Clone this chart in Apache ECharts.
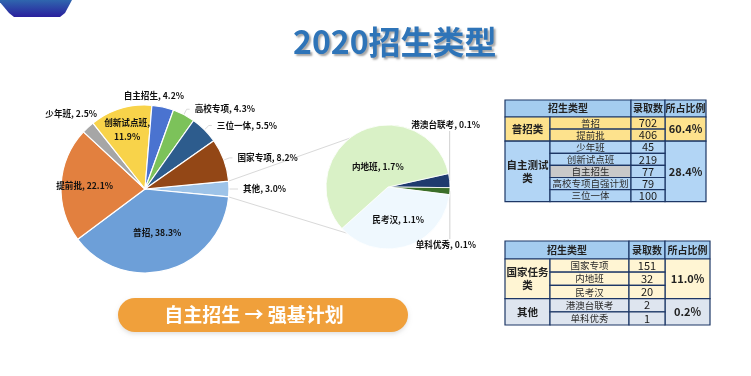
<!DOCTYPE html>
<html>
<head>
<meta charset="utf-8">
<title>2020招生类型</title>
<script src="https://cdn.jsdelivr.net/npm/echarts@6/dist/echarts.min.js"></script>
<style>
html,body{margin:0;padding:0;background:#fff;}
#main{width:751px;height:376px;}
</style>
</head>
<body>
<div id="main"></div>
<script>
// 主饼图 (顺时针, 从"其他"之后开始)
var mainNames = ['普招', '提前批', '少年班', '创新试点班', '自主招生', '高校专项', '三位一体', '国家专项'];
var mainCounts = [702, 406, 45, 219, 77, 79, 100, 151];
var mainColors = ['#6d9fd8', '#e2803f', '#a6a6a6', '#f8d34a', '#4a73d0', '#7cc25a', '#2d5c8d', '#934716'];
var insideNames = ['普招', '提前批', '创新试点班'];

// "其他" 拆分出的子饼图
var otherName = '其他';
var otherColor = '#9dc3e8';
var subNames = ['港澳台联考', '单科优秀', '民考汉', '内地班'];
var subCounts = [2, 1, 20, 32];
var subColors = ['#1f3b6e', '#3b6e29', '#eff8fe', '#d9f1c6'];

// 表格
var tableHeader = ['招生类型', '录取数', '所占比例'];
var table1Groups = ['普招类', '自主测试类'];
var table1GroupSize = [2, 5];
var table1Names = ['普招', '提前批', '少年班', '创新试点班', '自主招生', '高校专项自强计划', '三位一体'];
var table1Counts = [702, 406, 45, 219, 77, 79, 100];
var table1Ratios = ['60.4%', '28.4%'];
var table2Groups = ['国家任务类', '其他'];
var table2GroupSize = [3, 2];
var table2Names = ['国家专项', '内地班', '民考汉', '港澳台联考', '单科优秀'];
var table2Counts = [151, 32, 20, 2, 1];
var table2Ratios = ['11.0%', '0.2%'];

var FONT = '"Noto Sans CJK SC", "Noto Sans", sans-serif';
var MAIN_C = [145, 189], MAIN_R = 84;
var SUB_C = [388, 187], SUB_R = 62;
// 内部标签离圆心的位置 (占半径比例)
var insideRatio = {'提前批': 0.72, '创新试点班': 0.74, '内地班': 0.36};

function sum(arr){
	var s = 0;
	for(var i = 0; i < arr.length; i++){ s += arr[i]; }
	return s;
}
var otherTotal = sum(subCounts);
var total = sum(mainCounts) + otherTotal;

function pct(v){
	return (v / total * 100).toFixed(1) + '%';
}

function cell(x, y, w, h, fill, text, opt){
	opt = opt || {};
	return {
		type: 'rect',
		shape: {x: x, y: y, width: w, height: h},
		style: {fill: fill, stroke: '#1d3766', lineWidth: 1.2},
		textContent: {
			type: 'text',
			style: {
				text: text,
				fill: opt.color || '#222',
				fontSize: opt.size || 10,
				fontWeight: opt.bold ? 'bold' : 'normal',
				fontFamily: FONT,
				width: opt.width,
				overflow: opt.width ? 'break' : 'none',
				align: 'center',
				lineHeight: opt.lineHeight
			}
		},
		textConfig: {position: 'inside'}
	};
}

function buildTable(cols, y0, headH, rowH, groups, groupSize, names, counts, ratios, headColor, groupColors, highlight){
	var els = [];
	els.push(cell(cols[0], y0, cols[2] - cols[0], headH, headColor, tableHeader[0], {bold: true, size: 10}));
	els.push(cell(cols[2], y0, cols[3] - cols[2], headH, headColor, tableHeader[1], {bold: true, size: 10}));
	els.push(cell(cols[3], y0, cols[4] - cols[3], headH, headColor, tableHeader[2], {bold: true, size: 10}));
	var y = y0 + headH;
	var idx = 0;
	for(var g = 0; g < groups.length; g++){
		var h = groupSize[g] * rowH;
		els.push(cell(cols[0], y, cols[1] - cols[0], h, groupColors[g], groups[g], {bold: true, size: 10.5, width: 44, lineHeight: 13}));
		els.push(cell(cols[3], y, cols[4] - cols[3], h, groupColors[g], ratios[g], {bold: true, size: 11}));
		for(var r = 0; r < groupSize[g]; r++){
			var ry = y + r * rowH;
			var fill = names[idx] === highlight ? '#c9c9c9' : groupColors[g];
			els.push(cell(cols[1], ry, cols[2] - cols[1], rowH, fill, names[idx], {size: 9.5, color: '#2b2b2b'}));
			els.push(cell(cols[2], ry, cols[3] - cols[2], rowH, groupColors[g], String(counts[idx]), {size: 11, color: '#1a1a1a'}));
			idx++;
		}
		y += h;
	}
	return els;
}

function buildGraphic(){
	var els = [];
	// 左上角标签
	els.push({
		type: 'polygon',
		shape: {points: [[-2, 0], [72, 0], [65, 13], [60, 17], [14, 17], [9, 13]], smooth: 0},
		style: {fill: new echarts.graphic.LinearGradient(0, 0, 0, 1, [
			{offset: 0, color: '#2f66ae'}, {offset: 1, color: '#2a1f9d'}
		])}
	});
	// 连接线
	var a = otherTotal / total * Math.PI;
	var p1 = [MAIN_C[0] + MAIN_R * Math.cos(a), MAIN_C[1] - MAIN_R * Math.sin(a)];
	var p2 = [MAIN_C[0] + MAIN_R * Math.cos(a), MAIN_C[1] + MAIN_R * Math.sin(a)];
	var t1 = 128 * Math.PI / 180, t2 = 228 * Math.PI / 180;
	var q1 = [SUB_C[0] + SUB_R * Math.cos(t1), SUB_C[1] - SUB_R * Math.sin(t1)];
	var q2 = [SUB_C[0] + SUB_R * Math.cos(t2), SUB_C[1] - SUB_R * Math.sin(t2)];
	els.push({type: 'line', shape: {x1: p1[0], y1: p1[1], x2: q1[0], y2: q1[1]}, style: {stroke: '#d9d9d9', lineWidth: 1}, z: 1});
	els.push({type: 'line', shape: {x1: p2[0], y1: p2[1], x2: q2[0], y2: q2[1]}, style: {stroke: '#d9d9d9', lineWidth: 1}, z: 1});
	// 橙色横幅
	els.push({
		type: 'rect',
		shape: {x: 118, y: 298, width: 290, height: 34, r: 17},
		style: {fill: '#f0a03b', shadowColor: 'rgba(0,0,0,0.12)', shadowBlur: 4, shadowOffsetY: 2}
	});
	els.push({
		type: 'text',
		x: 254, y: 315,
		style: {text: '自主招生 → 强基计划', fill: '#fff', fontSize: 19, fontWeight: 'bold', fontFamily: FONT,
			align: 'center', verticalAlign: 'middle', textAlign: 'center', textVerticalAlign: 'middle'}
	});
	els = els.concat(buildTable([505, 550, 631, 665, 706], 100, 17, 12.1,
		table1Groups, table1GroupSize, table1Names, table1Counts, table1Ratios,
		'#a4ccef', ['#fde28d', '#b2d5f5'], '自主招生'));
	els = els.concat(buildTable([505, 550, 629, 665, 710], 241, 18, 13.2,
		table2Groups, table2GroupSize, table2Names, table2Counts, table2Ratios,
		'#a4ccef', ['#fff5d3', '#dee5ef'], null));
	return els;
}

// 内部标签沿半径方向挪动
function pushInside(p, name, center, radius){
	var r = p.labelRect;
	var cx = r.x + r.width / 2, cy = r.y + r.height / 2;
	var dx = cx - center[0], dy = cy - center[1];
	var d = Math.sqrt(dx * dx + dy * dy) || 1;
	var k = insideRatio[name] * radius / d;
	return {x: center[0] + dx * k, y: center[1] + dy * k, align: 'center', verticalAlign: 'middle'};
}

function initChart(){
	var chart = echarts.init(document.getElementById('main'), null, {renderer: 'canvas'});

	var mainData = [{name: otherName, value: otherTotal, itemStyle: {color: otherColor}}];
	for(var i = 0; i < mainNames.length; i++){
		var item = {name: mainNames[i], value: mainCounts[i], itemStyle: {color: mainColors[i]}};
		if(insideNames.indexOf(mainNames[i]) >= 0){
			item.label = {position: 'inside'};
		}
		mainData.push(item);
	}
	var subData = [];
	for(var j = 0; j < subNames.length; j++){
		var s = {name: subNames[j], value: subCounts[j], itemStyle: {color: subColors[j]}};
		if(j >= 2){
			s.label = {position: 'inside'};
		}
		subData.push(s);
	}

	var labelStyle = {color: '#111', fontSize: 8.6, fontWeight: 'bold', fontFamily: FONT};

	var option = {
		backgroundColor: '#fff',
		animation: false,
		title: {
			text: '2020招生类型',
			left: 288, top: 21,
			textStyle: {
				fontSize: 32, fontWeight: 'bold', color: '#2e74b8', fontFamily: FONT,
				textShadowColor: 'rgba(0,0,0,0.35)', textShadowBlur: 2, textShadowOffsetX: 2, textShadowOffsetY: 2
			}
		},
		graphic: {elements: buildGraphic()},
		series: [
			{
				type: 'pie',
				center: MAIN_C,
				radius: MAIN_R,
				startAngle: otherTotal / total * 180,
				clockwise: true,
				avoidLabelOverlap: false,
				itemStyle: {borderColor: '#fff', borderWidth: 1.2},
				label: Object.assign({
					show: true, position: 'outside',
					formatter: function(p){
						if(p.name === '创新试点班'){ return p.name + ',\n' + pct(p.value); }
						return p.name + ', ' + pct(p.value);
					},
					lineHeight: 14
				}, labelStyle),
				labelLine: {show: true, length: 6, length2: 3, lineStyle: {color: '#dadada', width: 1}},
				labelLayout: function(p){
					var name = mainData[p.dataIndex].name;
					if(insideRatio[name]){
						return pushInside(p, name, MAIN_C, MAIN_R);
					}
					var pt = p.labelLinePoints ? p.labelLinePoints[0] : null;
					if(name === '自主招生' && pt){
						return {x: pt[0] - 9, y: pt[1] - 11, align: 'center', verticalAlign: 'middle', labelLinePoints: [pt, pt, pt]};
					}
					if(name === '少年班' && pt){
						return {x: pt[0] + 9, y: pt[1] - 14, align: 'right', verticalAlign: 'middle', labelLinePoints: [pt, pt, pt]};
					}
					return {};
				},
				data: mainData
			},
			{
				type: 'pie',
				center: SUB_C,
				radius: SUB_R,
				startAngle: 12.5,
				clockwise: true,
				avoidLabelOverlap: false,
				itemStyle: {borderColor: '#fff', borderWidth: 0.8},
				label: Object.assign({
					show: true, position: 'outside',
					formatter: function(p){ return p.name + ', ' + pct(p.value); }
				}, labelStyle),
				labelLine: {show: true, length: 4, length2: 0, lineStyle: {color: '#d0d0d0', width: 1}},
				labelLayout: function(p){
					var name = subData[p.dataIndex].name;
					if(insideRatio[name]){
						return pushInside(p, name, SUB_C, SUB_R);
					}
					if(p.dataIndex > 1){ return {}; }
					var pt = p.labelLinePoints[0];
					var up = p.dataIndex === 0;
					var ly = up ? SUB_C[1] - SUB_R : SUB_C[1] + SUB_R - 4;
					var ey = up ? ly + 6 : ly - 6;
					return {
						x: pt[0] - 4, y: ly, align: 'center', verticalAlign: 'middle',
						labelLinePoints: [pt, [pt[0], ey], [pt[0], ey]]
					};
				},
				data: subData
			}
		]
	};
	chart.setOption(option);
}

initChart();
</script>
</body>
</html>
